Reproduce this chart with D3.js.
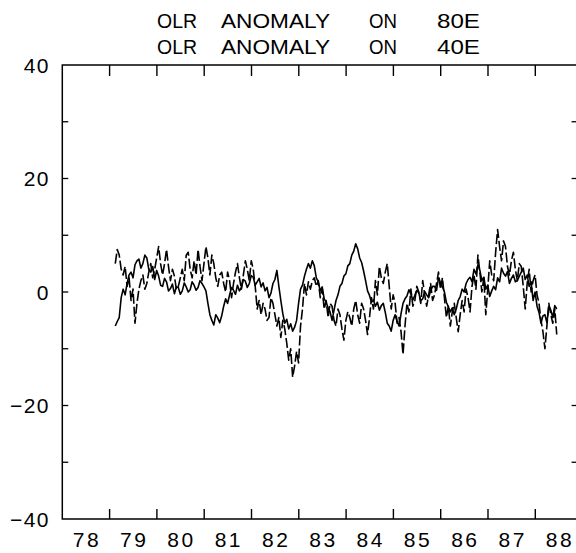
<!DOCTYPE html>
<html>
<head>
<meta charset="utf-8">
<script src="https://cdn.jsdelivr.net/npm/d3@7"></script>
<style>
  html, body { margin: 0; padding: 0; background: #fff; }
  svg { display: block; }
  text { font-family: "Liberation Sans", "DejaVu Sans", sans-serif; fill: #000; }
</style>
</head>
<body>
<svg id="chart" width="576" height="553"></svg>
<script>
// ---- data ----
const titleLines = [
  ["OLR", "ANOMALY", "ON", "80E"],
  ["OLR", "ANOMALY", "ON", "40E"]
];
const yearLabels = ["78","79","80","81","82","83","84","85","86","87","88"];
const yTickValues = [-40, -20, 0, 20, 40];
const yMinorTicks = [-30, -20, -10, 0, 10, 20, 30];
const startYear = 79.12;       // first sample (decimal year)
const stepYear = 1 / 24;       // sampling interval (half month)
// OLR anomaly on 80E (solid)
const olr80E = [
  -6.0, -5.2, -4.5, -1.0, 0.5, -0.5, 1.5, 3.0, 3.5, 2.5, 4.8, 5.5,
  5.8, 4.2, 5.0, 6.5, 6.0, 4.0, 3.5, 4.5, 2.2, 3.8, 2.8, 1.2,
  1.0, 2.4, 1.8, 0.2, 0.6, 1.4, -0.3, 0.9, 0.8, -0.4, 0.2, 1.6,
  0.9, 0.0, 0.4, 1.8, 1.2, 0.3, 0.8, 2.0, 1.5, 0.9, 0.2, -2.0,
  -4.0, -5.0, -5.8, -4.0, -4.6, -5.4, -4.2, -2.5, -1.2, -2.0, -0.5, 0.8,
  0.3, -0.4, 1.2, 0.2, 0.8, 2.2, 1.9, 0.8, 1.5, 2.9, 2.6, 1.2,
  1.8, 2.4, 0.9, 1.6, 0.2, 0.8, -1.0, -0.2, 1.5, 2.2, 3.8, 1.0,
  -1.5, -3.8, -5.5, -4.8, -6.5, -5.6, -6.9, -6.2, -5.0, -2.0, 0.5, 1.2,
  2.8, 4.0, 5.0, 4.2, 5.5, 4.6, 2.5, 1.8, 0.2, 0.9, -1.2, -1.8,
  -2.8, -3.5, -5.0, -3.2, -1.5, -0.5, 1.0, 1.5, 2.8, 3.2, 4.6, 5.0,
  6.5, 7.2, 8.5, 7.6, 6.0, 5.2, 3.7, 2.0, 0.2, -0.6, -1.8, -1.4,
  -2.5, -1.8, -3.2, -2.4, -2.0, -3.6, -5.5, -6.0, -6.9, -5.0, -4.0, -5.2,
  -6.0, -3.8, -2.0, -1.2, -0.7, 0.4, -0.4, -1.4, -0.6, 0.3, -0.2, -1.5,
  -1.2, 0.1, -0.5, -1.0, 0.2, 1.0, 1.0, 0.3, 2.5, 1.6, 1.0, 0.0,
  -1.8, -2.6, -3.5, -2.8, -4.0, -3.0, -1.5, -0.8, 0.5, 0.0, 1.5, 2.2,
  2.6, 1.8, 4.0, 3.2, 4.8, 3.8, 2.0, 2.6, 0.5, 1.2, -0.8, 0.2,
  1.0, 0.4, 2.5, 1.8, 4.2, 3.3, 2.8, 3.6, 1.5, 2.4, 3.0, 1.8,
  2.0, 2.8, 3.5, 4.2, 2.2, 3.0, 1.0, 1.8, -1.5, 0.0, -2.5, -3.6,
  -5.5, -4.2, -4.0, -5.4, -2.5, -3.2, -4.5, -2.4, -3.0
];
// OLR anomaly on 40E (dashed)
const olr40E = [
  5.0, 7.5, 6.5, 4.0, 3.0, 4.5, 1.0, 2.5, -1.5, 0.5, -5.5, -2.0,
  0.5, 2.0, 3.0, 0.5, 1.5, 3.5, 5.0, 2.5, 4.0, 6.0, 8.0, 5.0,
  3.0, 5.0, 7.5, 4.5, 2.0, 4.0, 2.8, 0.5, 1.0, 2.5, 4.0, 2.0,
  6.5, 7.0, 4.0, 2.5, 5.5, 3.0, 7.5, 4.5, 2.0, 5.0, 8.0, 6.0,
  3.0, 6.5, 5.0, 2.5, 1.0, 3.0, 3.5, 1.5, 0.0, 3.5, 2.0, -1.0,
  1.5, 3.5, 5.0, 2.5, 0.5, 3.0, 5.5, 4.0, 2.0, 5.5, 4.0, 1.0,
  -3.0, -1.5, -4.0, -2.0, -3.0, -5.0, -4.5, -1.0, -2.0, -4.0, -6.0, -4.5,
  -8.0, -5.0, -6.5, -9.0, -12.0, -10.0, -15.0, -13.0, -10.5, -12.5, -6.0, -3.0,
  1.5, -0.5, 1.8, 0.5, 2.0, 2.5, 1.0, 2.0, -1.0, 0.5, -3.0, -1.5,
  -4.5, -2.0, -2.5, -5.0, -6.0, -3.0, -4.0, -6.5, -8.5, -5.0, -3.5, -4.5,
  -6.0, -3.0, -1.5, -4.0, -5.5, -2.0, -3.0, -5.0, -7.5, -4.5, -1.0, -3.0,
  2.0, -0.5, 4.5, 2.5, 1.5, 3.5, 5.0, 1.0, -3.0, -0.5, -2.0, -5.5,
  -4.5, -7.0, -11.0, -6.0, -2.0, -3.5, 0.5, -2.5, -1.5, 1.0, 0.0, -2.0,
  2.0, -0.5, -2.5, -0.5, 1.5, -1.5, -0.5, 1.5, 3.5, 0.5, 2.5, -1.0,
  -4.5, -2.5, -6.0, -3.5, -2.0, -4.5, -7.0, -4.0, -1.5, -3.5, 0.5, -1.0,
  -3.5, 1.0, 3.0, 0.5, 6.5, 3.5, 0.0, 2.5, -4.0, 0.5, 5.5, 3.0,
  2.0, 7.0, 11.0, 8.0, 5.5, 9.0, 8.0, 4.5, 3.0, 5.5, 7.0, 4.0,
  2.0, 5.0, 4.5, 1.0, -3.0, 1.5, 4.0, 0.0, 2.0, 3.0, -0.5, -2.0,
  -5.0, -7.0, -10.0, -6.0, -2.0, -4.0, -5.5, -3.0, -7.5
];

// ---- chart ----
const svg = d3.select("#chart");
const x = d3.scaleLinear().domain([78, 89]).range([62.3, 582.6]);
const y = d3.scaleLinear().domain([-40, 40]).range([519, 65]);

// title (word by word)
const wordX = [157, 221, 369, 437];
const wordW = [40, 109, 28, 43];
titleLines.forEach((words, li) => {
  words.forEach((w, wi) => {
    svg.append("text")
      .attr("x", wordX[wi]).attr("y", 28 + li * 25.5)
      .attr("font-size", 21)
      .attr("textLength", wordW[wi]).attr("lengthAdjust", "spacingAndGlyphs")
      .text(w);
  });
});

// frame
const g = svg.append("g").attr("stroke", "#000").attr("fill", "none");
g.append("rect")
  .attr("x", x(78)).attr("y", y(40))
  .attr("width", x(89) - x(78)).attr("height", y(-40) - y(40))
  .attr("stroke-width", 1.5);

// x ticks at year boundaries (top and bottom, inward)
const yearBounds = d3.range(79, 89);
g.selectAll(".xt-top").data(yearBounds).join("line")
  .attr("x1", d => x(d)).attr("x2", d => x(d))
  .attr("y1", y(40)).attr("y2", y(40) + 11)
  .attr("stroke-width", 1.4);
g.selectAll(".xt-bot").data(yearBounds).join("line")
  .attr("x1", d => x(d)).attr("x2", d => x(d))
  .attr("y1", y(-40)).attr("y2", y(-40) - 10)
  .attr("stroke-width", 1.4);

// y ticks (left and right, inward)
g.selectAll(".yt-l").data(yMinorTicks).join("line")
  .attr("x1", x(78)).attr("x2", x(78) + 6)
  .attr("y1", d => y(d)).attr("y2", d => y(d))
  .attr("stroke-width", 1.3);
g.selectAll(".yt-r").data(yMinorTicks).join("line")
  .attr("x1", x(89)).attr("x2", x(89) - 11)
  .attr("y1", d => y(d)).attr("y2", d => y(d))
  .attr("stroke-width", 1.3);

// y labels
svg.selectAll(".ylab").data(yTickValues).join("text")
  .attr("x", 50).attr("y", d => y(d) + 7.5)
  .attr("text-anchor", "end").attr("font-size", 21)
  .attr("letter-spacing", 1.5)
  .text(d => d < 0 ? "\u2212" + Math.abs(d) : String(d));

// x labels centred on each year
svg.selectAll(".xlab").data(yearLabels).join("text")
  .attr("x", (d, i) => x(78 + i + 0.5) + 1)
  .attr("y", 547)
  .attr("text-anchor", "middle").attr("font-size", 21)
  .attr("letter-spacing", 2.5)
  .text(d => d);

// series
const line = d3.line()
  .x((d, i) => x(startYear + i * stepYear))
  .y(d => y(d));

svg.append("path").datum(olr80E)
  .attr("d", line).attr("fill", "none")
  .attr("stroke", "#000").attr("stroke-width", 1.6)
  .attr("stroke-linejoin", "round");

svg.append("path").datum(olr40E)
  .attr("d", line).attr("fill", "none")
  .attr("stroke", "#000").attr("stroke-width", 1.6)
  .attr("stroke-dasharray", "10,3")
  .attr("stroke-linejoin", "round");
</script>
</body>
</html>
